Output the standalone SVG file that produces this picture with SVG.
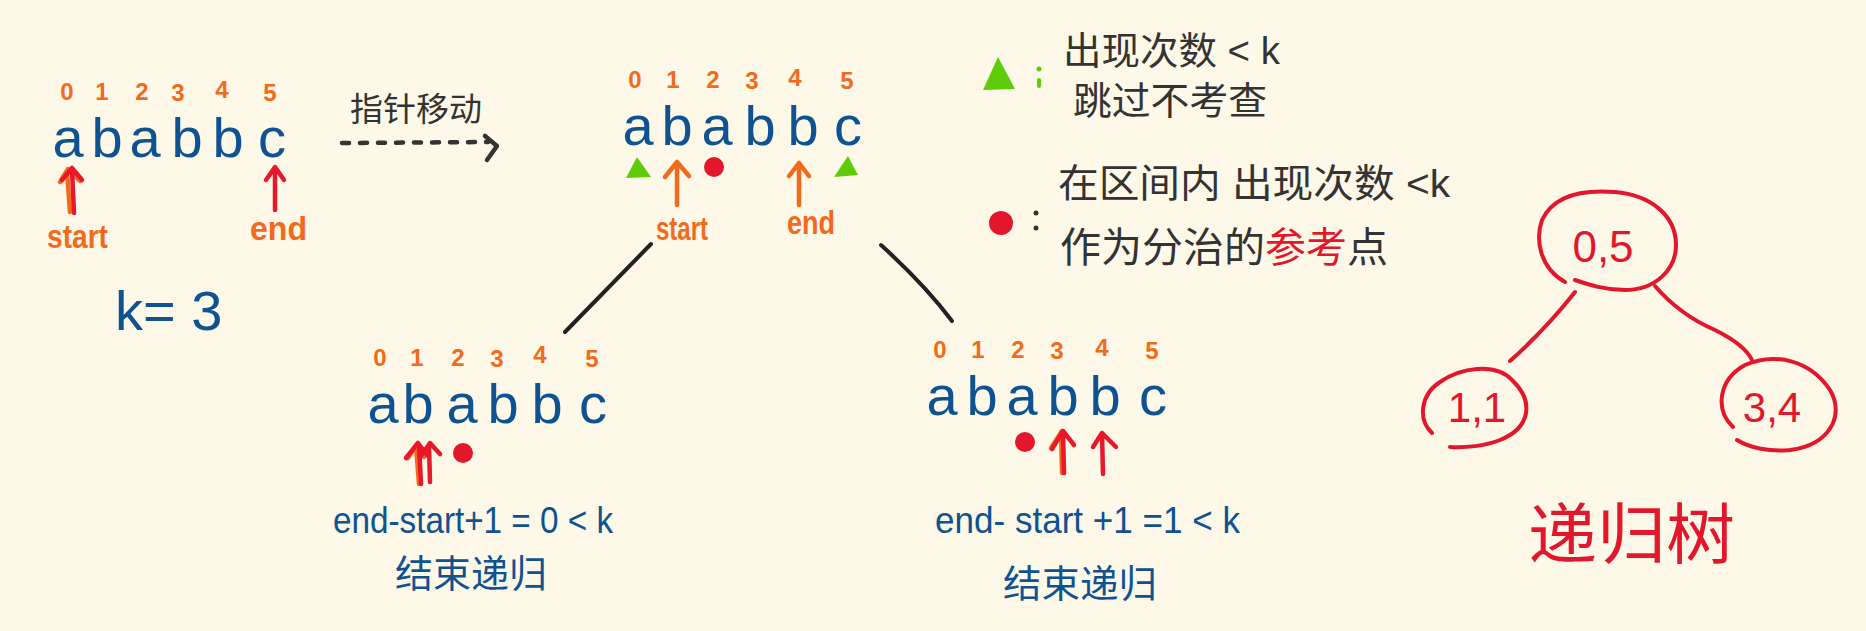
<svg xmlns="http://www.w3.org/2000/svg" width="1866" height="631" viewBox="0 0 1866 631">
<defs>
<style>
.bg{fill:#fdf8e8}
.idx{font-family:"Liberation Sans","Noto Sans",sans-serif;font-size:24px;font-weight:700;fill:#f26b1d;text-anchor:middle}
.let{font-family:"Liberation Sans","Noto Sans",sans-serif;font-size:56px;fill:#0e5291;text-anchor:middle}
.lbl{font-family:"Liberation Sans","Noto Sans",sans-serif;font-size:34px;font-weight:700;fill:#f26b1d}
.blue{font-family:"Liberation Sans","Noto Sans CJK SC",sans-serif;fill:#0e5291}
.cjkb{font-family:"Noto Sans CJK SC",sans-serif;fill:#0e5291}
.dark{font-family:"Liberation Sans","Noto Sans CJK SC",sans-serif;fill:#333333}
.redt{font-family:"Liberation Sans","Noto Sans CJK SC",sans-serif;fill:#e3172c}
.arr{fill:none;stroke-width:4.5;stroke-linecap:round;stroke-linejoin:round}
.ared{stroke:#e8182a}
.aor{stroke:#f26b1d}
.con{fill:none;stroke:#222;stroke-width:4;stroke-linecap:round}
.tree{fill:none;stroke:#e3172c;stroke-width:4;stroke-linecap:round}
.tri{fill:#5fcc0a}
.dot{fill:#e3172c}
</style>
</defs>
<rect class="bg" x="0" y="0" width="1866" height="631"/>

<g id="string-top-left">
<text class="idx" x="67" y="100">0</text><text class="idx" x="102" y="100">1</text><text class="idx" x="142" y="100">2</text><text class="idx" x="178" y="101">3</text><text class="idx" x="222" y="98">4</text><text class="idx" x="270" y="101">5</text>
<text class="let" x="68" y="157">a</text><text class="let" x="107" y="157">b</text><text class="let" x="145" y="157">a</text><text class="let" x="187" y="157">b</text><text class="let" x="228" y="157">b</text><text class="let" x="272" y="157">c</text>
<path class="arr aor" d="M70 212 L67 172 M60 182 L68 169 L80 181"/>
<path class="arr ared" d="M74 213 L72 170 M62 180 L72 168 L82 180"/>
<path class="arr ared" d="M275 210 L275 168 M266 180 L275 167 L284 180"/>
<text class="lbl" x="47" y="248" textLength="61" lengthAdjust="spacingAndGlyphs">start</text>
<text class="lbl" x="250" y="240" textLength="57" lengthAdjust="spacingAndGlyphs">end</text>
<text class="blue" x="115" y="330" font-size="56">k= 3</text>
</g>

<g id="move-label">
<text class="dark" x="350" y="121" font-size="33" textLength="132" lengthAdjust="spacingAndGlyphs">指针移动</text>
<path class="arr" stroke="#333" stroke-width="3" stroke-dasharray="7 11" d="M342 143 L488 142"/>
<path class="arr" stroke="#333" stroke-width="4" d="M485 136 L497 146 L487 160"/>
</g>

<g id="string-top-mid">
<text class="idx" x="635" y="88">0</text><text class="idx" x="673" y="88">1</text><text class="idx" x="713" y="88">2</text><text class="idx" x="752" y="89">3</text><text class="idx" x="795" y="86">4</text><text class="idx" x="847" y="89">5</text>
<text class="let" x="638" y="145">a</text><text class="let" x="677" y="145">b</text><text class="let" x="717" y="145">a</text><text class="let" x="760" y="145">b</text><text class="let" x="803" y="145">b</text><text class="let" x="848" y="145">c</text>
<path class="tri" d="M626 178 L637 157 L651 177 Z"/>
<path class="tri" d="M834 177 L848 156 L858 175 Z"/>
<circle class="dot" cx="714" cy="167" r="10"/>
<path class="arr aor" d="M677 205 L677 163 M665 177 L677 162 L689 176"/>
<path class="arr aor" d="M799 205 L799 163 M789 176 L799 163 L809 176"/>
<text class="lbl" x="656" y="240" textLength="52" lengthAdjust="spacingAndGlyphs">start</text>
<text class="lbl" x="787" y="234" textLength="48" lengthAdjust="spacingAndGlyphs">end</text>
</g>

<g id="connectors">
<path class="con" d="M651 244 L565 332"/>
<path class="con" d="M881 245 Q925 285 952 321"/>
</g>

<g id="legend">
<path class="tri" d="M983 90 L998 57 L1015 89 Z"/>
<circle cx="1039" cy="69" r="2.5" fill="#5fcc0a"/><path d="M1039 80 L1039 86" stroke="#5fcc0a" stroke-width="4" stroke-linecap="round"/>
<text class="dark" x="1063" y="64" font-size="38" textLength="217" lengthAdjust="spacingAndGlyphs">出现次数 &lt; k</text>
<text class="dark" x="1073" y="114" font-size="38" textLength="194" lengthAdjust="spacingAndGlyphs">跳过不考查</text>
<circle class="dot" cx="1001" cy="223" r="12"/>
<circle cx="1036" cy="213" r="2.5" fill="#333"/><circle cx="1036" cy="228" r="2.5" fill="#333"/>
<text class="dark" x="1058" y="197" font-size="39" textLength="392" lengthAdjust="spacingAndGlyphs">在区间内 出现次数 &lt;k</text>
<text class="dark" x="1060" y="262" font-size="41">作为分治的<tspan fill="#e3172c">参考</tspan>点</text>
</g>

<g id="string-bottom-left">
<text class="idx" x="380" y="366">0</text><text class="idx" x="417" y="366">1</text><text class="idx" x="458" y="366">2</text><text class="idx" x="497" y="367">3</text><text class="idx" x="540" y="363">4</text><text class="idx" x="592" y="367">5</text>
<text class="let" x="383" y="423">a</text><text class="let" x="418" y="423">b</text><text class="let" x="462" y="423">a</text><text class="let" x="503" y="423">b</text><text class="let" x="547" y="423">b</text><text class="let" x="593" y="423">c</text>
<path class="arr aor" d="M419 484 L416 446 M408 458 L417 444 L424 457"/>
<path class="arr ared" d="M421 484 L419 445 M406 458 L418 443 L428 456"/>
<path class="arr ared" d="M430 482 L429 445 M421 456 L430 443 L440 454"/>
<circle class="dot" cx="463" cy="453" r="10"/>
<text class="blue" x="333" y="533" font-size="36" textLength="280" lengthAdjust="spacingAndGlyphs">end-start+1 = 0 &lt; k</text>
<text class="cjkb" x="395" y="587" font-size="38" textLength="152" lengthAdjust="spacingAndGlyphs">结束递归</text>
</g>

<g id="string-bottom-right">
<text class="idx" x="940" y="358">0</text><text class="idx" x="978" y="358">1</text><text class="idx" x="1018" y="358">2</text><text class="idx" x="1057" y="359">3</text><text class="idx" x="1102" y="356">4</text><text class="idx" x="1152" y="359">5</text>
<text class="let" x="942" y="415">a</text><text class="let" x="982" y="415">b</text><text class="let" x="1022" y="415">a</text><text class="let" x="1063" y="415">b</text><text class="let" x="1105" y="415">b</text><text class="let" x="1153" y="415">c</text>
<circle class="dot" cx="1025" cy="442" r="10"/>
<path class="arr aor" d="M1062 473 L1061 432 M1051 448 L1062 431"/>
<path class="arr ared" d="M1064 473 L1063 432 M1052 449 L1063 431 L1074 445"/>
<path class="arr ared" d="M1103 474 L1102 434 M1093 447 L1102 433 L1116 447"/>
<text class="blue" x="935" y="533" font-size="36" textLength="305" lengthAdjust="spacingAndGlyphs">end- start +1 =1 &lt; k</text>
<text class="cjkb" x="1003" y="597" font-size="38" textLength="154" lengthAdjust="spacingAndGlyphs">结束递归</text>
</g>

<g id="tree-root">
<path class="tree" d="M1565 282 C1540 268 1535 240 1542 220 C1555 192 1590 190 1615 192 C1650 195 1676 215 1676 245 C1676 270 1655 290 1625 290 C1605 290 1590 285 1575 280"/>
<text class="redt" x="1603" y="262" font-size="44" text-anchor="middle">0,5</text>
</g>
<g id="tree-left">
<path class="tree" d="M1432 433 C1418 420 1420 395 1440 382 C1460 368 1495 362 1512 380 C1535 402 1530 428 1500 440 C1485 446 1465 448 1450 447"/>
<text class="redt" x="1477" y="422" font-size="42" text-anchor="middle">1,1</text>
</g>
<g id="tree-right">
<path class="tree" d="M1733 427 C1715 410 1718 380 1745 365 C1775 352 1810 360 1830 390 C1845 415 1830 445 1790 450 C1770 452 1750 448 1737 440"/>
<text class="redt" x="1772" y="422" font-size="42" text-anchor="middle">3,4</text>
</g>
<g id="tree-edges">
<path class="tree" d="M1575 292 Q1545 330 1510 361"/>
<path class="tree" d="M1655 286 Q1680 315 1715 330 Q1745 345 1752 360"/>
</g>
<text class="redt" x="1528" y="558" font-size="66" textLength="207" lengthAdjust="spacingAndGlyphs">递归树</text>
</svg>
